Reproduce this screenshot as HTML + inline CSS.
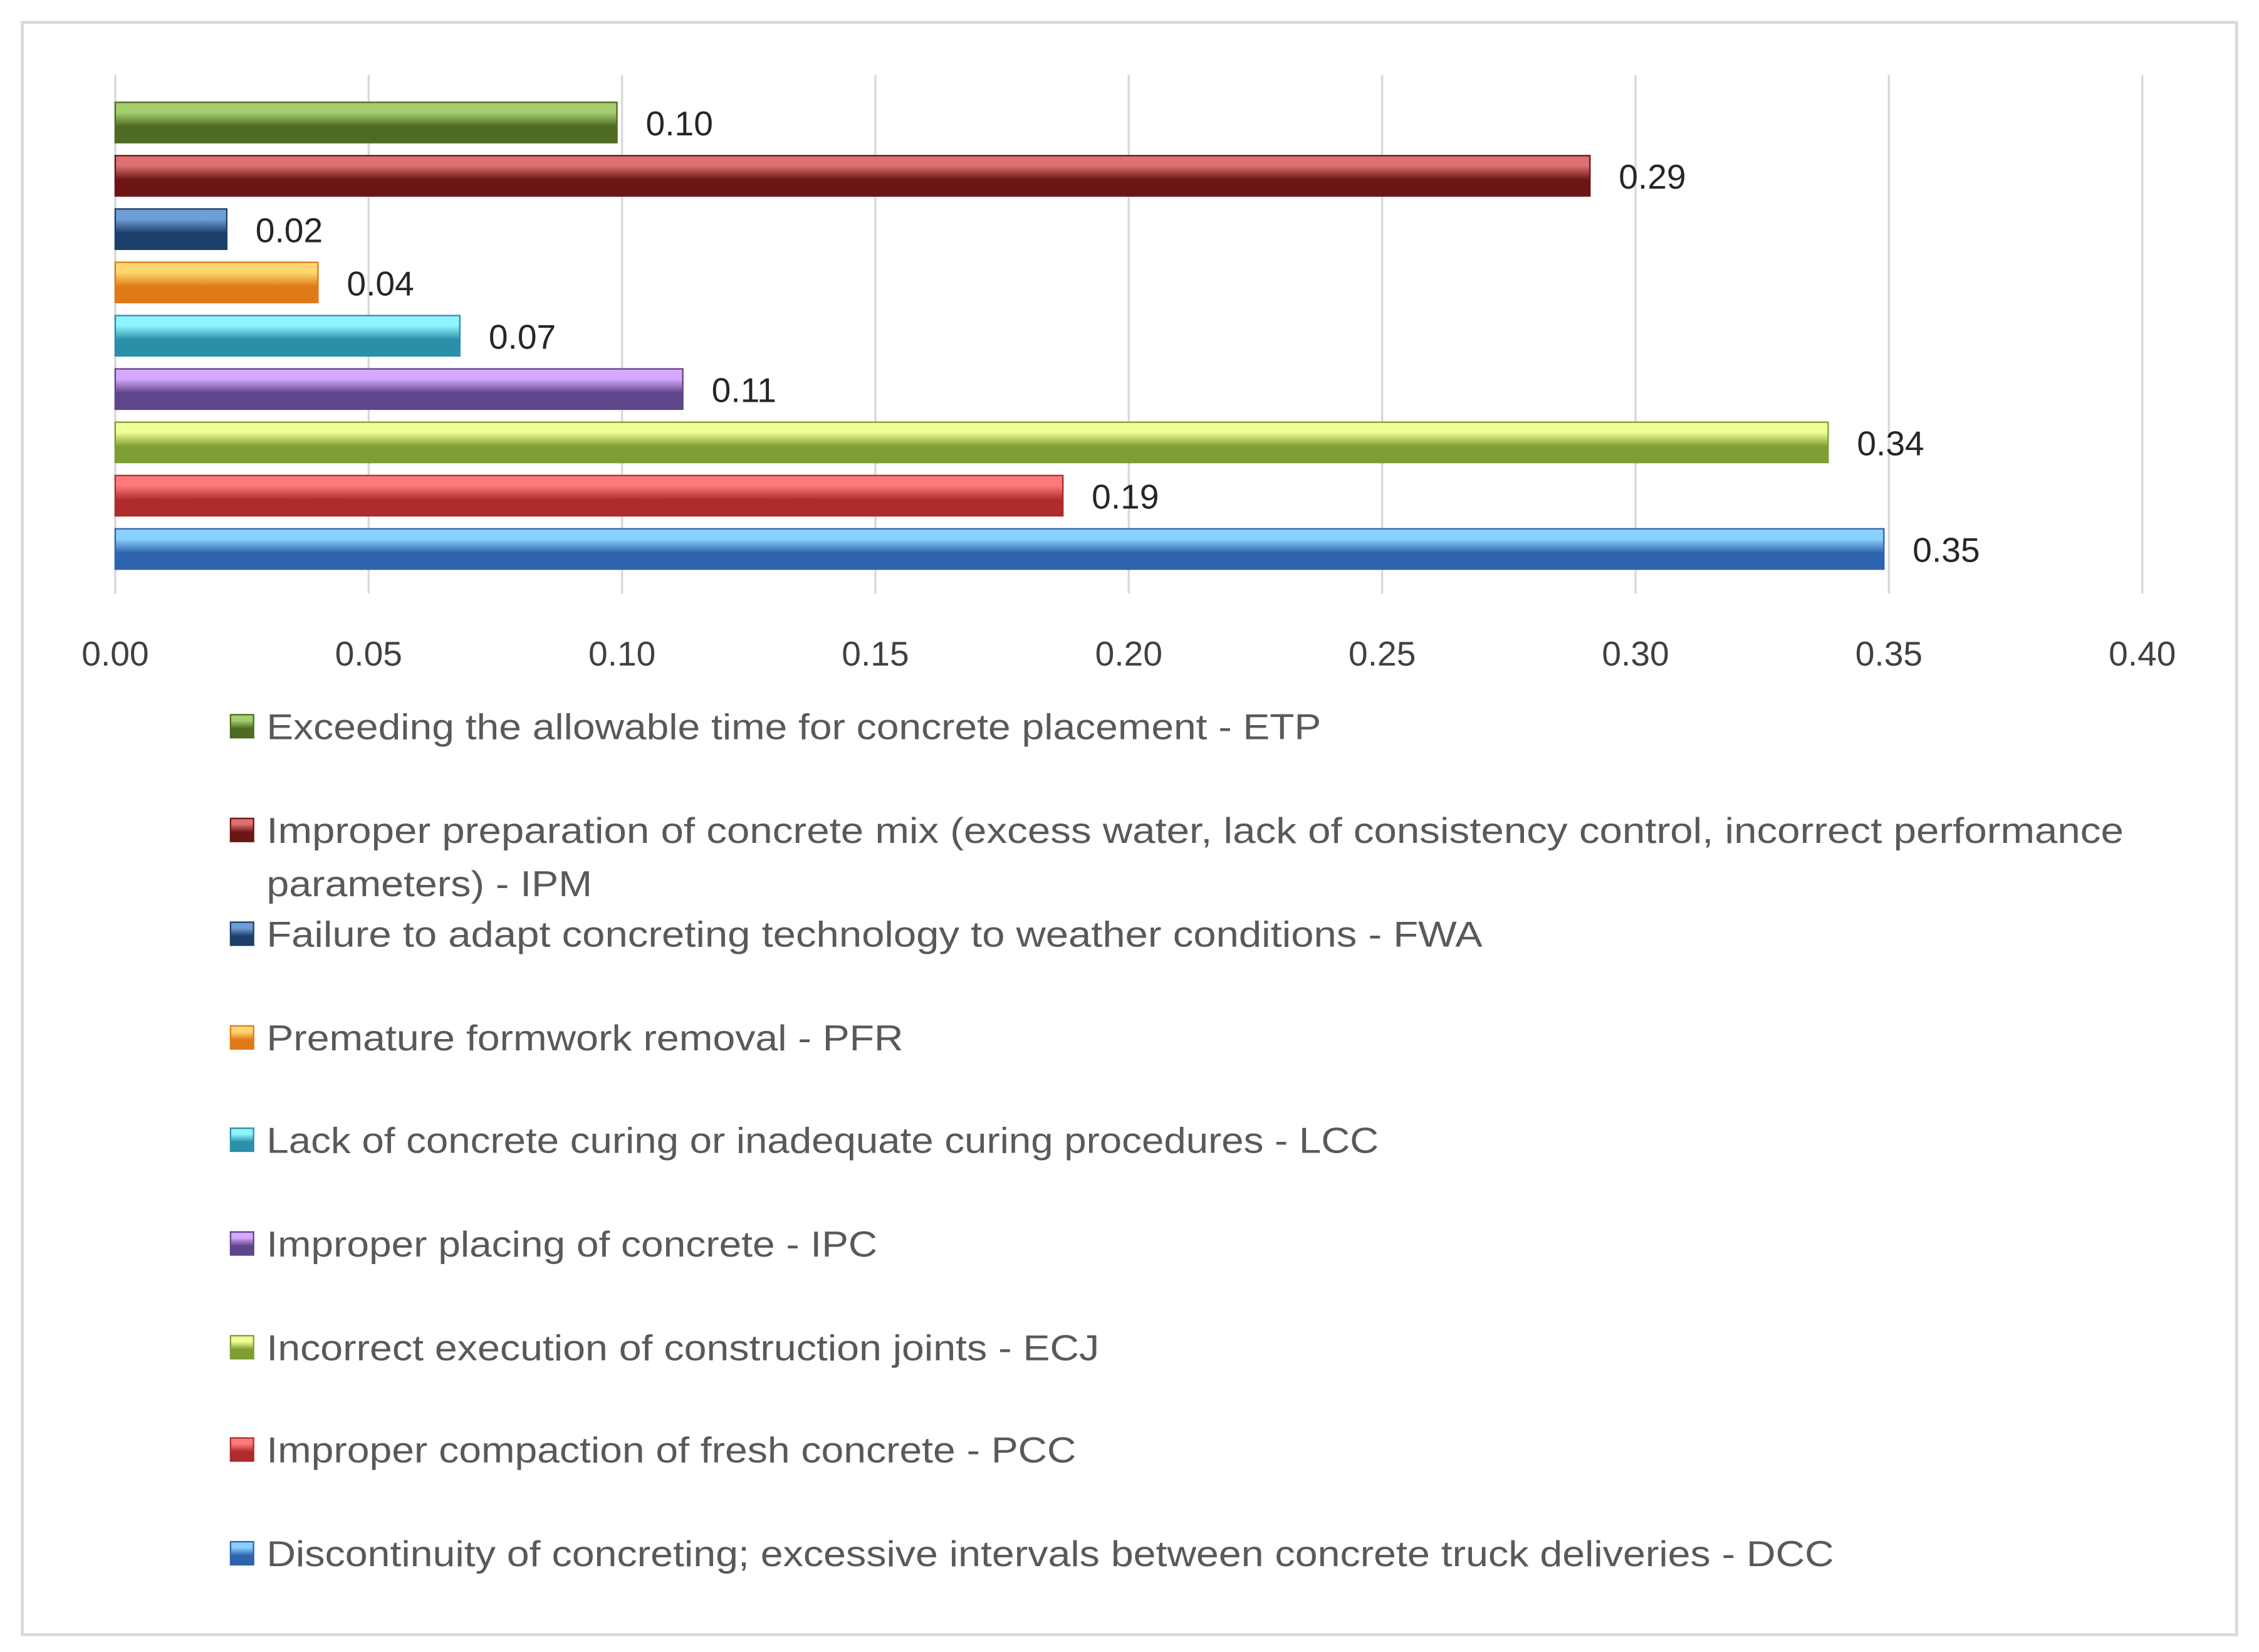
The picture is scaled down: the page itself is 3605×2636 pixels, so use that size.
<!DOCTYPE html>
<html><head><meta charset="utf-8"><style>html,body{margin:0;padding:0;background:#fff}svg{display:block}</style></head>
<body>
<svg id="chart" width="3605" height="2636" viewBox="0 0 1568 1146.5" xmlns="http://www.w3.org/2000/svg" font-family="'Liberation Sans', sans-serif">
<rect x="15.5" y="15.5" width="1537" height="1119" fill="#fff" stroke="#d9d9d9" stroke-width="2"/>
<defs id="defs"></defs>
<g id="grid"></g><g id="bars"></g><g id="ticks"></g><g id="legend"></g>
</svg>
<script>
const categories=["ETP","IPM","FWA","PFR","LCC","IPC","ECJ","PCC","DCC"];
const values=[0.099,0.291,0.022,0.040,0.068,0.112,0.338,0.187,0.349];
const valueLabels=["0.10","0.29","0.02","0.04","0.07","0.11","0.34","0.19","0.35"];
const tickValues=[0,0.05,0.10,0.15,0.20,0.25,0.30,0.35,0.40];
const tickLabels=["0.00","0.05","0.10","0.15","0.20","0.25","0.30","0.35","0.40"];
const legendLabels=[["Exceeding the allowable time for concrete placement - ETP"],
["Improper preparation of concrete mix (excess water, lack of consistency control, incorrect performance","parameters) - IPM"],
["Failure to adapt concreting technology to weather conditions - FWA"],
["Premature formwork removal - PFR"],
["Lack of concrete curing or inadequate curing procedures - LCC"],
["Improper placing of concrete - IPC"],
["Incorrect execution of construction joints - ECJ"],
["Improper compaction of fresh concrete - PCC"],
["Discontinuity of concreting; excessive intervals between concrete truck deliveries - DCC"]];
const legendWidths=[[732],[1289,226],[844],[442],[772],[424],[578],[562],[1088]];
const colors=[["#a6cf6f","#4f6b22"],["#dd7070","#6b1515"],["#6e9fd6","#1d3f6b"],["#ffd870","#e07a18"],["#8ff4ff","#2a8fa8"],["#d6a8ff","#5f4589"],["#f2ff96","#7e9e33"],["#ff7a7a","#b02b2b"],["#8ad0ff","#2e64ad"]];
const NS="http://www.w3.org/2000/svg";
const x0=80,x1=1487,xmax=0.4;
const xs=v=>x0+(v/xmax)*(x1-x0);
const rowY=i=>85+i*37;
function mk(tag,attrs,parent){const e=document.createElementNS(NS,tag);for(const k in attrs)e.setAttribute(k,attrs[k]);parent.appendChild(e);return e;}
const defs=document.getElementById('defs');
colors.forEach((c,i)=>{const g=mk('linearGradient',{id:'g'+i,x1:0,y1:0,x2:0,y2:1},defs);
mk('stop',{offset:'0',"stop-color":c[0]},g);mk('stop',{offset:'0.25',"stop-color":c[0]},g);mk('stop',{offset:'0.6',"stop-color":c[1]},g);mk('stop',{offset:'1',"stop-color":c[1]},g);});
const grid=document.getElementById('grid');
tickValues.forEach(v=>{const l=mk('line',{x1:xs(v),x2:xs(v),y1:52,y2:412,stroke:'#d9d9d9','stroke-width':1.5},grid);

});
const ticks=document.getElementById('ticks');
tickValues.forEach((v,i)=>{const t=mk('text',{x:xs(v),y:462,'text-anchor':'middle','font-size':24,fill:'#404040'},ticks);t.textContent=tickLabels[i];

});
const bars=document.getElementById('bars');
values.forEach((v,i)=>{const y=rowY(i)-14;
const r=mk('rect',{x:x0,y:y,width:xs(v)-x0,height:28,fill:'url(#g'+i+')',stroke:colors[i][1],'stroke-width':1},bars);


const t=mk('text',{x:xs(v)+20,y:rowY(i)+9,'font-size':24,fill:'#262626'},bars);t.textContent=valueLabels[i];

});
const leg=document.getElementById('legend');
const legY=[513,585,657,729,800,872,944,1015,1087];
legendLabels.forEach((lines,i)=>{const y=legY[i];
const m=mk('rect',{x:160,y:y-17,width:16,height:16,fill:'url(#g'+i+')',stroke:colors[i][1],'stroke-width':1},leg);


lines.forEach((s,j)=>{const t=mk('text',{x:185,y:y+j*37,'font-size':25,fill:'#595959',textLength:legendWidths[i][j],lengthAdjust:'spacingAndGlyphs'},leg);t.textContent=s;

});});
</script>
</body></html>
